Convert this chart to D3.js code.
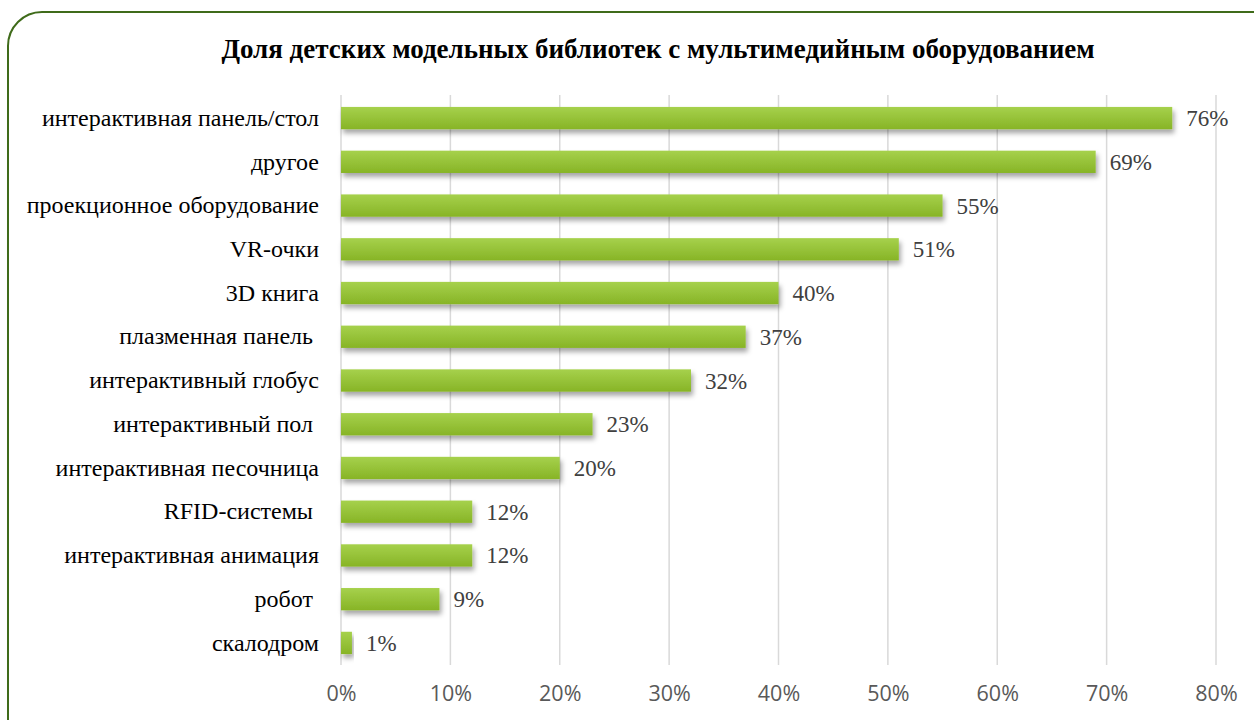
<!DOCTYPE html>
<html><head><meta charset="utf-8">
<script src="https://cdn.jsdelivr.net/npm/d3@7/dist/d3.min.js"></script>
<style>body{margin:0;background:#fff}svg{display:block}text{white-space:pre}</style>
</head><body>
<script>
const categories = ["интерактивная панель/стол","другое","проекционное оборудование","VR-очки","3D книга","плазменная панель ","интерактивный глобус","интерактивный пол ","интерактивная песочница","RFID-системы ","интерактивная анимация","робот ","скалодром"];
const values = [76,69,55,51,40,37,32,23,20,12,12,9,1];
const ticks = [0,10,20,30,40,50,60,70,80];
const title = "Доля детских модельных библиотек с мультимедийным оборудованием";

const SERIF="Liberation Serif";
const W=1254,H=720;
const svg=d3.select("body").append("svg").attr("width",W).attr("height",H);
const defs=svg.append("defs");
const g=defs.append("linearGradient").attr("id","bg").attr("x1",0).attr("y1",0).attr("x2",0).attr("y2",1);
g.append("stop").attr("offset","0%").attr("stop-color","#a6d14c");
g.append("stop").attr("offset","100%").attr("stop-color","#87b426");
const f=defs.append("filter").attr("id","sh").attr("x","-5%").attr("y","-30%").attr("width","115%").attr("height","190%");
f.append("feDropShadow").attr("dx",2).attr("dy",4).attr("stdDeviation",2.5).attr("flood-color","#000").attr("flood-opacity",0.35);

svg.append("rect").attr("x",8).attr("y",12).attr("width",1290).attr("height",740).attr("rx",34).attr("ry",34)
  .attr("fill","#fff").attr("stroke","#3f6b1a").attr("stroke-width",2);

svg.append("text").attr("x",658).attr("y",58).attr("text-anchor","middle")
  .style("font-family",SERIF).attr("font-weight","bold").attr("font-size",27).attr("fill","#000").text(title);

const x=d3.scaleLinear().domain([0,80]).range([341,1216]);
const y=d3.scaleBand().domain(categories).range([96,665]).paddingInner(0.49).paddingOuter(0.25);

svg.append("g").selectAll("line").data(ticks).join("line")
  .attr("x1",d=>x(d)).attr("x2",d=>x(d)).attr("y1",95).attr("y2",665)
  .attr("stroke","#d9d9d9").attr("stroke-width",1.5);

svg.append("g").selectAll("rect").data(values).join("rect")
  .attr("x",x(0)).attr("y",(d,i)=>y(categories[i])).attr("width",d=>x(d)-x(0)).attr("height",y.bandwidth())
  .attr("fill","url(#bg)").attr("filter","url(#sh)");

svg.append("g").selectAll("text").data(values).join("text")
  .attr("x",d=>x(d)+14).attr("y",(d,i)=>y(categories[i])+y.bandwidth()/2).attr("dy","0.35em")
  .style("font-family",SERIF).attr("font-size",23).attr("fill","#404040").text(d=>d+"%");

const yAxis=d3.axisLeft(y).tickSize(0).tickPadding(0);
const ya=svg.append("g").attr("transform","translate(319,0)").call(yAxis);
ya.select(".domain").remove();
ya.selectAll("text").style("font-family",SERIF).attr("font-size",24).attr("fill","#000");

const xAxis=d3.axisBottom(x).tickValues(ticks).tickFormat(d=>d+"%").tickSize(0).tickPadding(0);
const xa=svg.append("g").attr("transform","translate(0,693)").call(xAxis);
xa.select(".domain").remove();
xa.selectAll("text").style("font-family","Open Sans").attr("font-size",21.5).attr("fill","#595959").attr("dy","0.35em");
</script>
</body></html>
